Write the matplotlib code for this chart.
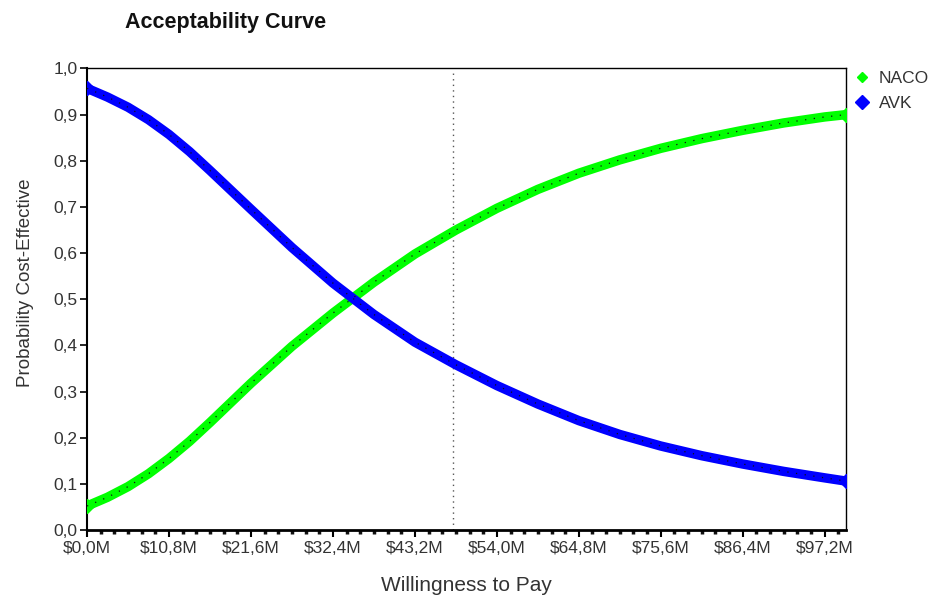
import matplotlib
matplotlib.use("Agg")
import matplotlib.pyplot as plt
from matplotlib.ticker import FixedLocator, MultipleLocator

plt.rcParams['font.family'] = ['Liberation Sans', 'DejaVu Sans']

# Willingness to pay (millions)
wtp = [0, 2.7, 5.4, 8.1, 10.8, 13.5, 16.2, 21.6, 27.0, 32.4, 37.8, 43.2, 48.6, 54.0,
       59.4, 64.8, 70.2, 75.6, 81.0, 86.4, 91.8, 97.2, 100.0]
naco = [0.052, 0.071, 0.094, 0.122, 0.155, 0.192, 0.233, 0.318, 0.398, 0.470, 0.537,
        0.598, 0.650, 0.697, 0.738, 0.773, 0.802, 0.827, 0.848, 0.866, 0.882, 0.895, 0.900]
avk = [0.957, 0.938, 0.916, 0.889, 0.857, 0.820, 0.779, 0.695, 0.612, 0.535, 0.467,
       0.407, 0.358, 0.313, 0.273, 0.237, 0.207, 0.182, 0.161, 0.143, 0.127, 0.113, 0.106]
threshold = 48.2
xticks = [0, 10.8, 21.6, 32.4, 43.2, 54.0, 64.8, 75.6, 86.4, 97.2]
xticklabels = ["$0,0M", "$10,8M", "$21,6M", "$32,4M", "$43,2M", "$54,0M",
               "$64,8M", "$75,6M", "$86,4M", "$97,2M"]
yticks = [i / 10 for i in range(11)]
yticklabels = [f"{v:.1f}".replace('.', ',') for v in yticks]

fig = plt.figure(figsize=(9.32, 5.97), dpi=100)
ax = fig.add_axes([0.0934, 0.1122, 0.8143, 0.7731])

txt = '#333333'
green = '#00ff00'
blue = '#0000ff'

ax.axvline(threshold, color='#555555', lw=1.0, ls=(0, (1, 3)), ymax=0.99, zorder=1)

for vals, col in [(naco, green), (avk, blue)]:
    ax.plot(wtp, vals, color=col, lw=6.8, solid_capstyle='butt',
            solid_joinstyle='round', zorder=2)
    ax.plot(wtp, vals, color=col, lw=0, marker='D', markersize=7,
            markevery=[0, len(wtp) - 1], zorder=3)
    ax.plot(wtp, vals, color='#111111', lw=0.9, ls=(0, (1, 6)), zorder=4)

ax.set_xlim(0, 100)
ax.set_ylim(0, 1.0)
ax.xaxis.set_major_locator(FixedLocator(xticks))
ax.set_xticklabels(xticklabels)
ax.xaxis.set_minor_locator(MultipleLocator(1.8))
ax.set_yticks(yticks)
ax.set_yticklabels(yticklabels)

ax.tick_params(axis='both', which='major', direction='out', length=5, width=1.2,
               labelsize=12.5, labelcolor=txt, color='black', pad=2)
ax.tick_params(axis='x', which='minor', direction='out', length=3, width=2.5, color='#111111')
ax.tick_params(axis='x', which='major', width=1.5, pad=3)
for s in ax.spines.values():
    s.set_color('black')
    s.set_linewidth(1.0)
ax.spines['left'].set_linewidth(1.5)
ax.spines['bottom'].set_linewidth(2)

ax.set_xlabel("Willingness to Pay", fontsize=15, color=txt, labelpad=14)
ax.set_ylabel("Probability Cost-Effective", fontsize=13.5, color=txt, labelpad=14)
ax.yaxis.label.set_y(0.535)

fig.text(0.134, 0.963, "Acceptability Curve", fontsize=15.5, fontweight='bold',
         color='#111111', va='center', ha='left')

h1, = ax.plot([], [], color=green, marker='D', lw=0, markersize=5)
h2, = ax.plot([], [], color=blue, marker='D', lw=0, markersize=7)
leg = ax.legend([h1, h2], ["NACO", "AVK"], loc='upper left', bbox_to_anchor=(1.0, 1.01),
                frameon=False, fontsize=12.5, handlelength=1.0, handletextpad=0.5,
                labelspacing=0.55, borderaxespad=0)
for t in leg.get_texts():
    t.set_color(txt)

fig.savefig("out.png", dpi=100, facecolor='white')
